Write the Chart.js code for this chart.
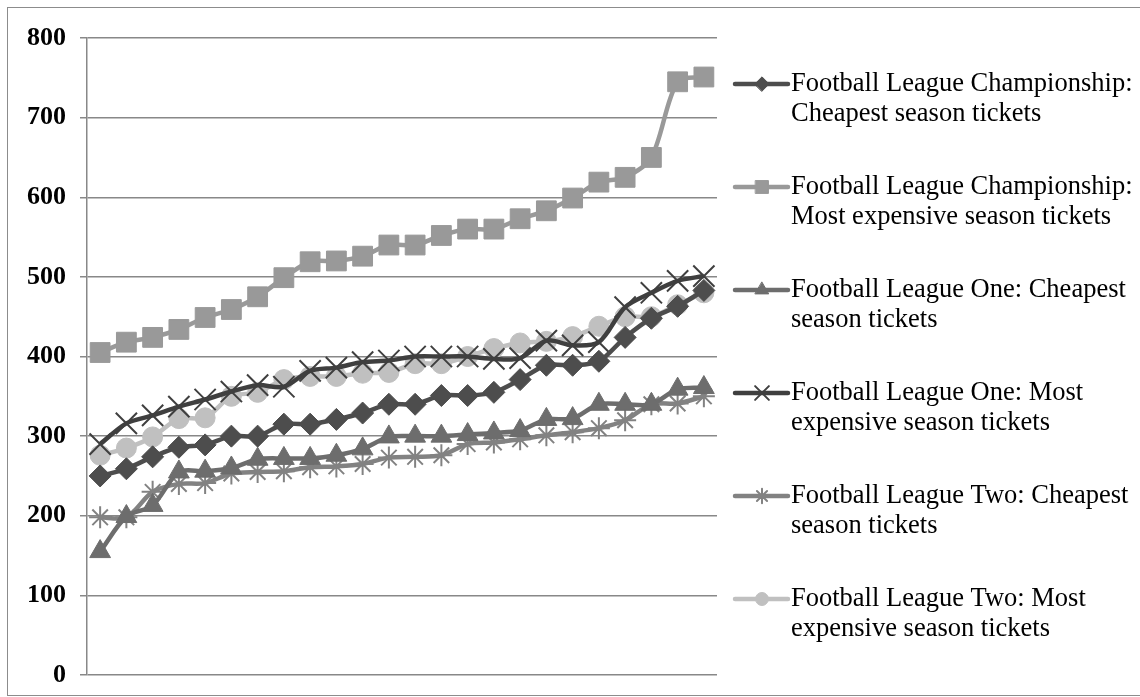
<!DOCTYPE html>
<html>
<head>
<meta charset="utf-8">
<script src="https://cdn.jsdelivr.net/npm/chart.js@4.4.1/dist/chart.umd.min.js"></script>
<style>
  html, body { margin: 0; padding: 0; background: #fff; }
  #wrap { position: relative; width: 1140px; height: 697px; overflow: hidden; }
  #frame { position: absolute; left: 7px; top: 7px; width: 1140px; height: 689px; border: 1px solid #8c8c8c; box-sizing: border-box; }
  #chart { position: absolute; left: 0; top: 0; }
</style>
</head>
<body>
<div id="wrap">
  <div id="frame"></div>
  <canvas id="chart" width="1140" height="697"></canvas>
</div>
<script>
// clubs, sorted by price (24 per series)
const clubs = ['1','2','3','4','5','6','7','8','9','10','11','12','13','14','15','16','17','18','19','20','21','22','23','24'];

const champCheap = [250, 259, 274, 286, 289, 300, 300, 315, 315, 321, 329, 340, 340, 351, 351, 355, 371, 389, 389, 394, 424, 448, 463, 483];
const champDear  = [405, 418, 424, 434, 449, 459, 475, 499, 519, 520, 526, 540, 540, 552, 560, 560, 573, 583, 599, 619, 625, 650, 745, 751];
const oneCheap   = [155, 199, 213, 255, 256, 260, 271, 272, 272, 276, 284, 299, 300, 300, 302, 304, 307, 321, 322, 340, 340, 340, 359, 361];
const oneDear    = [290, 316, 326, 337, 346, 356, 364, 362, 382, 386, 393, 395, 400, 400, 400, 397, 398, 420, 414, 418, 462, 480, 495, 501];
const twoCheap   = [198, 198, 230, 240, 241, 253, 255, 256, 261, 262, 265, 273, 274, 276, 290, 292, 296, 301, 305, 310, 320, 340, 341, 350];
const twoDear    = [276, 285, 299, 322, 323, 350, 355, 371, 375, 375, 379, 380, 391, 391, 400, 410, 417, 419, 425, 438, 450, 450, 465, 480];

// legend text, already split the way the original wraps it
const seriesNames = [
  ['Football League Championship:', 'Cheapest season tickets'],
  ['Football League Championship:', 'Most expensive season tickets'],
  ['Football League One: Cheapest', 'season tickets'],
  ['Football League One: Most', 'expensive season tickets'],
  ['Football League Two: Cheapest', 'season tickets'],
  ['Football League Two: Most', 'expensive season tickets']
];

const yTicks = [0, 100, 200, 300, 400, 500, 600, 700, 800];

const SERIF = "'Liberation Serif', 'Times New Roman', serif";

function series(i, data, color, style, radius, bw) {
  return {
    label: seriesNames[i].join(' '),
    legendLines: seriesNames[i],
    data: data,
    borderColor: color,
    backgroundColor: color,
    pointBackgroundColor: color,
    pointBorderColor: color,
    pointStyle: style,
    pointRadius: radius,
    pointBorderWidth: bw,
    borderWidth: 4.5,
    tension: 0.3
  };
}

// legend drawn by hand: two-line labels on the right
const sideLegend = {
  id: 'sideLegend',
  afterDraw(chart) {
    const ctx = chart.ctx;
    const top = 84, step = 103, lineH = 30;
    ctx.save();
    chart.data.datasets.forEach((ds, i) => {
      const y = top + i * step;
      ctx.strokeStyle = ds.borderColor;
      ctx.lineWidth = 4.5;
      ctx.lineCap = 'round';
      ctx.beginPath();
      ctx.moveTo(735, y);
      ctx.lineTo(788, y);
      ctx.stroke();
      ctx.fillStyle = ds.borderColor;
      ctx.lineWidth = ds.pointBorderWidth;
      Chart.helpers.drawPoint(ctx, { pointStyle: ds.pointStyle, radius: ds.pointRadius * 0.65, borderWidth: ds.pointBorderWidth }, 762, y);
      ctx.fillStyle = '#000';
      ctx.font = '26.5px ' + SERIF;
      ctx.textBaseline = 'middle';
      ctx.textAlign = 'left';
      ds.legendLines.forEach((t, k) => ctx.fillText(t, 791, y + k * lineH));
    });
    ctx.restore();
  }
};

new Chart(document.getElementById('chart'), {
  type: 'line',
  data: {
    labels: clubs,
    datasets: [
      series(0, champCheap, '#4d4d4d', 'rectRot', 11, 1),
      series(1, champDear,  '#999999', 'rect',    14, 1),
      series(2, oneCheap,   '#6d6d6d', 'triangle',12, 1),
      series(3, oneDear,    '#3f3f3f', 'crossRot',15, 2),
      series(4, twoCheap,   '#828282', 'star',    11, 2),
      series(5, twoDear,    '#c0c0c0', 'circle',  10, 1)
    ]
  },
  plugins: [sideLegend],
  options: {
    responsive: false,
    animation: false,
    layout: { padding: { left: 0, top: 38, right: 423, bottom: 22 } },
    plugins: { legend: { display: false }, tooltip: { enabled: false } },
    scales: {
      x: {
        offset: true,
        grid: { display: false },
        border: { display: false },
        ticks: { display: false },
        afterFit: s => { s.height = 0; }
      },
      y: {
        min: 0,
        max: 800,
        afterBuildTicks: s => { s.ticks = yTicks.map(v => ({ value: v })); },
        afterFit: s => { s.width = 87; },
        grid: { color: '#888888', lineWidth: 1.5, tickLength: 7, drawTicks: true },
        border: { color: '#888888', width: 1.5 },
        ticks: {
          padding: 14,
          color: '#000',
          font: { family: SERIF, size: 26, weight: 'bold', lineHeight: 0.5 }
        }
      }
    }
  }
});
</script>
</body>
</html>
